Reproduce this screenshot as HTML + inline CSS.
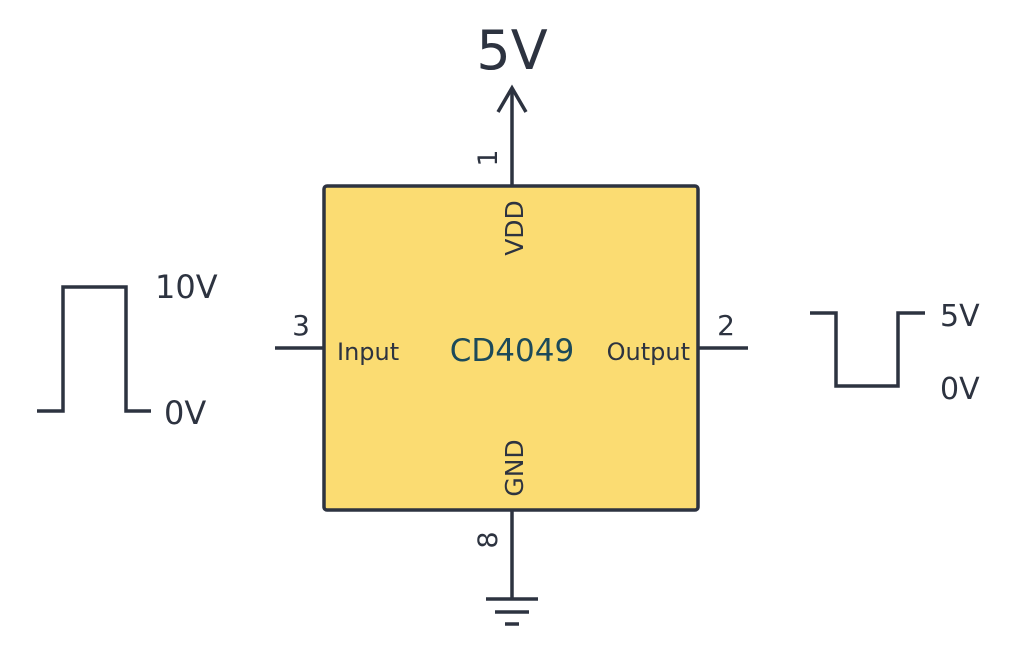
<!DOCTYPE html>
<html><head><meta charset="utf-8"><style>
html,body{margin:0;padding:0;background:#fff;}
svg text{font-family:"DejaVu Sans","Liberation Sans",sans-serif;fill:#2d3340;}
</style></head><body>
<svg width="1024" height="662" viewBox="0 0 1024 662" xmlns="http://www.w3.org/2000/svg">
<g stroke="#2d3340" stroke-width="3.5" fill="none" stroke-linecap="butt">
<rect x="324" y="186" width="374" height="324" rx="3" fill="#fbdc72"/>
<line x1="512" y1="186" x2="512" y2="88"/>
<polyline points="498,112 512,88 526,112" stroke-linejoin="miter"/>
<line x1="512" y1="510" x2="512" y2="599"/>
<line x1="486" y1="599" x2="538" y2="599"/>
<line x1="495" y1="612" x2="529" y2="612"/>
<line x1="505" y1="624" x2="519" y2="624"/>
<line x1="275" y1="348" x2="324" y2="348"/>
<line x1="698" y1="348" x2="748" y2="348"/>
<polyline points="37,411 63,411 63,287 126,287 126,411 151,411"/>
<polyline points="810,313 836,313 836,386 898,386 898,313 925,313"/>
</g>
<text x="512" y="69" font-size="54" text-anchor="middle">5V</text>
<text transform="translate(497,158) rotate(-90)" font-size="27" text-anchor="middle">1</text>
<text transform="translate(523,228) rotate(-90)" font-size="25" text-anchor="middle">VDD</text>
<text transform="translate(523,468) rotate(-90)" font-size="25" text-anchor="middle">GND</text>
<text transform="translate(497,540) rotate(-90)" font-size="27" text-anchor="middle">8</text>
<text x="301" y="335" font-size="28" text-anchor="middle">3</text>
<text x="726" y="335" font-size="28" text-anchor="middle">2</text>
<text x="337" y="360" font-size="24">Input</text>
<text x="512" y="361" font-size="31" text-anchor="middle" style="fill:#1c4a5a">CD4049</text>
<text x="690" y="360" font-size="24" text-anchor="end">Output</text>
<text x="155" y="298" font-size="32">10V</text>
<text x="164" y="424" font-size="32">0V</text>
<text x="940" y="326" font-size="30">5V</text>
<text x="940" y="399" font-size="30">0V</text>
</svg>
</body></html>
